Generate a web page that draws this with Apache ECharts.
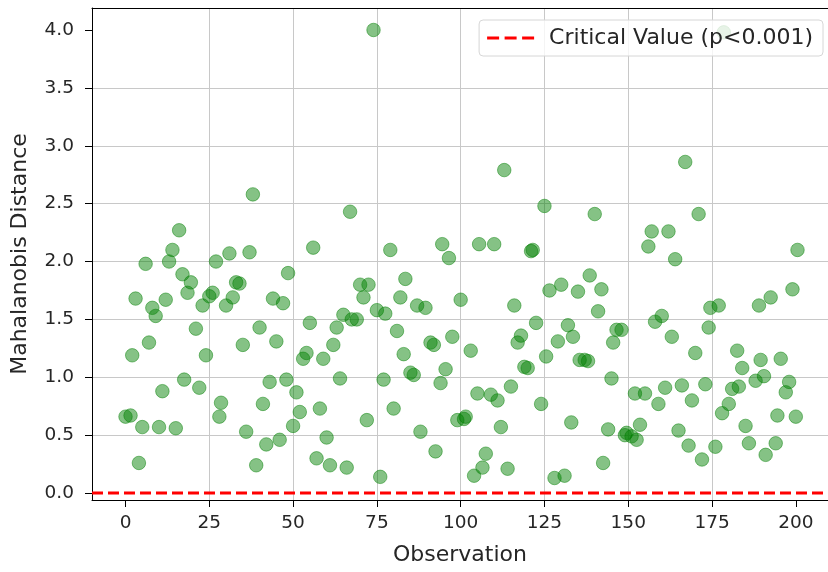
<!DOCTYPE html>
<html>
<head>
<meta charset="utf-8">
<script src="https://cdn.jsdelivr.net/npm/echarts@6/dist/echarts.min.js"></script>
<style>
  html, body { margin: 0; padding: 0; background: #fff; }
  #chart { width: 828px; height: 572px; }
</style>
</head>
<body>
<div id="chart"></div>
<script>
  // observation index (x) and Mahalanobis distance (y)
  var obs = [0, 1.5, 2, 3, 4, 5, 6, 7, 8, 9, 10, 11, 12, 13, 14, 15, 16, 17, 17.5, 18.5,
    19.5, 21, 22, 23, 24, 25, 26, 27, 28, 28.5, 30, 31, 32, 33, 34, 35, 36, 37, 38, 39,
    40, 41, 42, 43, 44, 45, 46, 47, 48, 48.5, 50, 51, 52, 53, 54, 55, 56, 57, 58, 59,
    60, 61, 62, 63, 64, 65, 66, 67, 67.5, 69, 70, 71, 72, 72.5, 74, 75, 76, 77, 77.5, 79,
    80, 81, 82, 83, 83.5, 85, 86, 87, 88, 89.5, 91, 92, 92.5, 94, 94.5, 95.5, 96.5, 97.5, 99, 100,
    101, 101.5, 103, 104, 105, 105.5, 106.5, 107.5, 109, 110, 111, 112, 113, 114, 115, 116, 117, 118, 119, 120,
    121, 121.5, 122.5, 124, 125, 125.5, 126.5, 128, 129, 130, 131, 132, 133, 133.5, 135, 135.5, 137, 138, 138.5, 140,
    141, 142, 142.5, 144, 145, 145.5, 146.5, 148, 149, 149.5, 151, 152, 152.5, 153.5, 155, 156, 157, 158, 159, 160,
    161, 162, 163, 164, 165, 166, 167, 168, 169, 170, 171, 172, 173, 174, 174.5, 176, 177, 178, 178.5, 180,
    181, 182.5, 183, 184, 185, 186, 188, 189, 189.5, 190.5, 191, 192.5, 194, 194.5, 195.5, 197, 198, 199, 200, 200.5]
  var dist = [0.66, 0.67, 1.19, 1.68, 0.26, 0.57, 1.98, 1.30, 1.60, 1.53, 0.57, 0.88, 1.67, 2.00, 2.10, 0.56, 2.27, 1.89, 0.98, 1.73,
    1.82, 1.42, 0.91, 1.62, 1.19, 1.70, 1.73, 2.00, 0.66, 0.78, 1.62, 2.07, 1.69, 1.82, 1.81, 1.28, 0.53, 2.08, 2.58, 0.24,
    1.43, 0.77, 0.42, 0.96, 1.68, 1.31, 0.46, 1.64, 0.98, 1.90, 0.58, 0.87, 0.70, 1.16, 1.21, 1.47, 2.12, 0.30, 0.73, 1.16,
    0.48, 0.24, 1.28, 1.43, 0.99, 1.54, 0.22, 2.43, 1.50, 1.50, 1.80, 1.69, 0.63, 1.80, 4.00, 1.58, 0.14, 0.98, 1.55, 2.10,
    0.73, 1.40, 1.69, 1.20, 1.85, 1.04, 1.02, 1.62, 0.53, 1.60, 1.30, 1.28, 0.36, 0.95, 2.15, 1.07, 2.03, 1.35, 0.63, 1.67,
    0.64, 0.66, 1.23, 0.15, 0.86, 2.15, 0.22, 0.34, 0.85, 2.15, 0.80, 0.57, 2.79, 0.21, 0.92, 1.62, 1.30, 1.36, 1.09, 1.08,
    2.09, 2.10, 1.47, 0.77, 2.48, 1.18, 1.75, 0.13, 1.31, 1.80, 0.15, 1.45, 0.61, 1.35, 1.74, 1.15, 1.15, 1.14, 1.88, 2.41,
    1.57, 1.76, 0.26, 0.55, 0.99, 1.30, 1.41, 1.41, 0.50, 0.52, 0.49, 0.86, 0.46, 0.59, 0.86, 2.13, 2.26, 1.48, 0.77, 1.53,
    0.91, 2.26, 1.35, 2.02, 0.54, 0.93, 2.86, 0.41, 0.80, 1.21, 2.41, 0.29, 0.94, 1.43, 1.60, 0.40, 1.62, 0.69, 3.98, 0.77,
    0.90, 1.23, 0.92, 1.08, 0.58, 0.43, 0.97, 1.62, 1.15, 1.01, 0.33, 1.69, 0.43, 0.67, 1.16, 0.87, 0.96, 1.76, 0.66, 2.10]
  var criticalValue = 0.0
  var xTickVals = [0, 25, 50, 75, 100, 125, 150, 175, 200]
  var yTickVals = [0, 0.5, 1, 1.5, 2, 2.5, 3, 3.5, 4]
  var xRange = [-10, 209.6]
  var yRange = [-0.06, 4.19]

  var points = obs.map(function (x, i) { return [x, dist[i]] })
  var chart = echarts.init(document.getElementById('chart'))
  var font = 'DejaVu Sans'
  var textColor = '#262626'
  var gridColor = '#c8c8c8'

  var option = {
    animation: false,
    grid: {
      left: 92,
      right: -2,
      top: 8,
      bottom: 72,
    },
    legend: {
      right: 5,
      top: 20,
      padding: [7, 10, 7, 8],
      icon: 'path://M0,0h12v3h-12z M17.5,0h12v3h-12z M35,0h12v3h-12z',
      itemWidth: 47,
      itemHeight: 3,
      backgroundColor: 'rgba(255,255,255,0.8)',
      borderColor: '#d6d6d6',
      borderWidth: 1,
      borderRadius: 4,
      textStyle: { fontFamily: font, fontSize: 22, color: textColor, padding: [0, 0, 0, 10] },
      data: ['Critical Value (p<0.001)'],
    },
    xAxis: [
      {
        type: 'value',
        min: xRange[0],
        max: xRange[1],
        name: 'Observation',
        nameLocation: 'middle',
        nameGap: 44,
        nameTextStyle: { fontFamily: font, fontSize: 22, color: textColor },
        axisLine: { onZero: false, lineStyle: { color: '#000', width: 1 } },
        axisTick: { inside: false, length: 7, customValues: xTickVals, lineStyle: { color: '#000' } },
        axisLabel: {
          customValues: xTickVals,
          margin: 14,
          fontFamily: font,
          fontSize: 18.5,
          color: textColor,
        },
        splitLine: { show: true, showMinLine: false, showMaxLine: false, lineStyle: { color: gridColor, width: 1 } },
      },
      {
        // top spine only
        type: 'value',
        position: 'top',
        min: xRange[0],
        max: xRange[1],
        axisLine: { onZero: false, lineStyle: { color: '#000', width: 1 } },
        axisTick: { show: false },
        axisLabel: { show: false },
        splitLine: { show: false },
      },
    ],
    yAxis: {
      type: 'value',
      min: yRange[0],
      max: yRange[1],
      name: 'Mahalanobis Distance',
      nameLocation: 'middle',
      nameGap: 61,
      nameTextStyle: { fontFamily: font, fontSize: 22, color: textColor },
      axisLine: { onZero: false, lineStyle: { color: '#000', width: 1 } },
      axisTick: { inside: false, length: 7, customValues: yTickVals, lineStyle: { color: '#000' } },
      axisLabel: {
        customValues: yTickVals,
        margin: 18,
        fontFamily: font,
        fontSize: 18.5,
        color: textColor,
        formatter: function (v) { return v.toFixed(1) },
      },
      splitLine: { show: true, showMinLine: false, showMaxLine: false, lineStyle: { color: gridColor, width: 1 } },
    },
    series: [
      {
        name: 'Mahalanobis',
        type: 'scatter',
        symbolSize: 13.5,
        itemStyle: {
          color: 'rgba(0,128,0,0.6)',
          borderColor: 'rgba(0,128,0,0.6)',
          borderWidth: 1,
        },
        data: points,
        z: 3,
      },
      {
        name: 'Critical Value (p<0.001)',
        type: 'line',
        symbol: 'none',
        lineStyle: { color: '#ff0000', width: 3, type: [11, 5] },
        itemStyle: { color: '#ff0000' },
        data: [[xRange[0], criticalValue], [xRange[1], criticalValue]],
        z: 4,
      },
    ],
  }
  chart.setOption(option)
</script>
</body>
</html>
